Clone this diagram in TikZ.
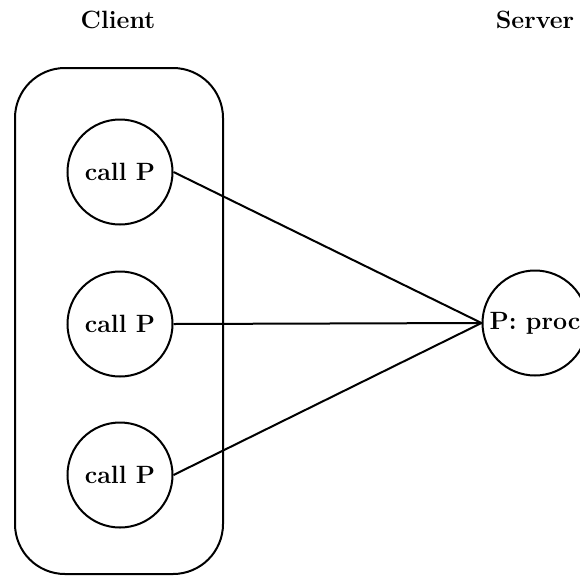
\documentclass[tikz,border=0pt]{standalone}
\begin{document}
\begin{tikzpicture}[x=1pt,y=-1pt,
  every node/.style={font=\fontsize{25}{30}\selectfont\bfseries},
  lbl/.style={inner sep=0pt},
  proc/.style={draw,circle,line width=2pt,minimum size=105pt,inner sep=0pt},
  link/.style={line width=2pt},
  frame/.style={draw,line width=2pt,rounded corners=50pt}]
\useasboundingbox (0,0) rectangle (580,576);
\node[lbl] (client) at (118,20) {Client};
\node[lbl] (server) at (535,20) {Server};
\draw[frame] (15,68) rectangle (223,574);
\node[proc] (c1) at (120,172) {call P};
\node[proc] (c2) at (120,324) {call P};
\node[proc] (c3) at (120,475) {call P};
\node[proc] (p) at (535,323) {P: proc};
\draw[link] (c1.east) -- (p.west);
\draw[link] (c2.east) -- (p.west);
\draw[link] (c3.east) -- (p.west);
\end{tikzpicture}
\end{document}
